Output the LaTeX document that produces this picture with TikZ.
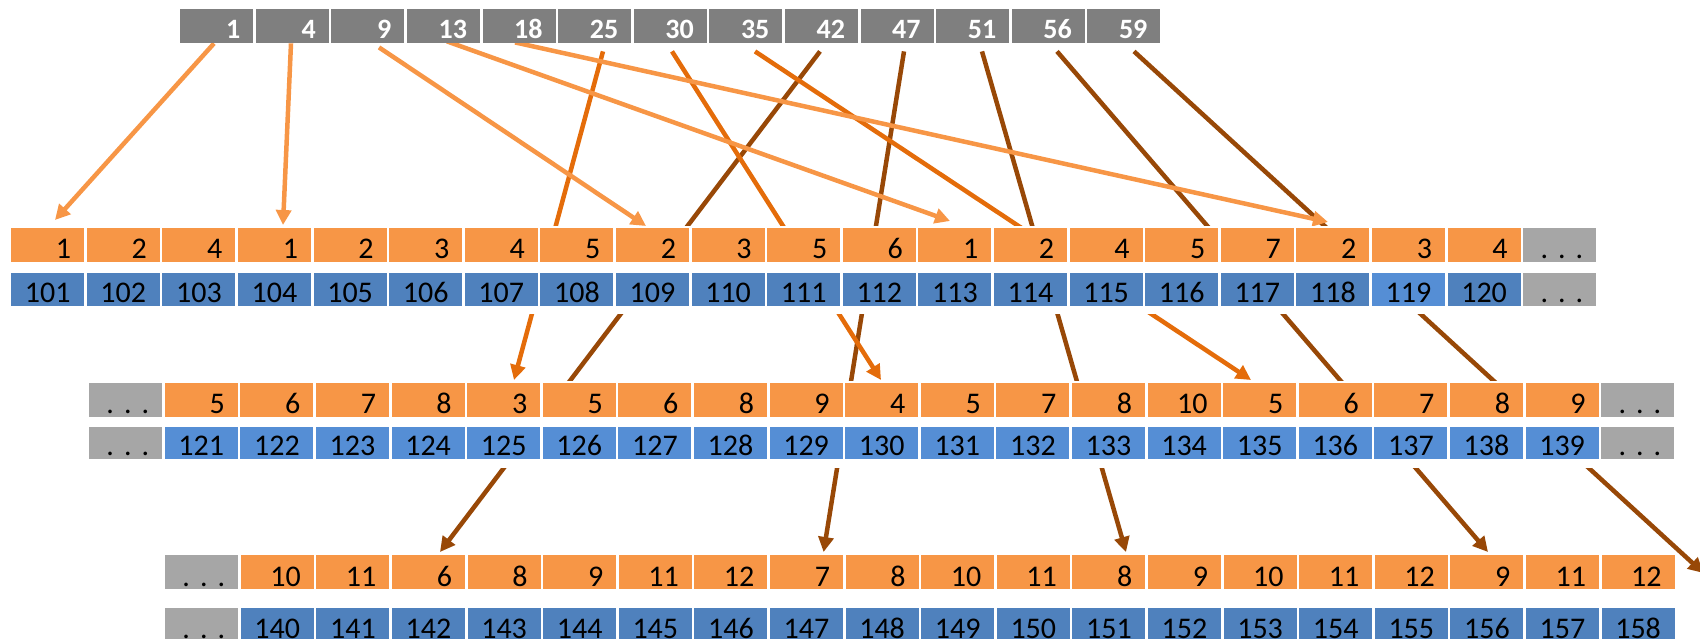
\documentclass[tikz,border=0pt]{standalone}
\usepackage{fontspec}
\setmainfont{Carlito}
\usetikzlibrary{arrows.meta,calc}
\definecolor{topgray}{HTML}{7F7F7F}
\definecolor{cellor}{HTML}{F79646}
\definecolor{cellbl}{HTML}{4F81BD}
\definecolor{cellbltwo}{HTML}{558ED5}
\definecolor{dotgray}{HTML}{A6A6A6}
\definecolor{lnlight}{HTML}{F79646}
\definecolor{lndark}{HTML}{E46C0A}
\definecolor{lnbrown}{HTML}{984807}
\pgfdeclarelayer{lines}
\pgfdeclarelayer{bands}
\pgfsetlayers{lines,bands,main}
\newcommand{\mydots}{\mbox{.\ .\ .}}
\begin{document}
\begin{tikzpicture}[x=1pt,y=-1pt,
  basecell/.style={anchor=north west, inner xsep=13pt, inner ysep=0pt,
    minimum width=73pt, text width=47pt, draw=none},
  topcell/.style={basecell, fill=topgray, text=white, align=right,
    text height=29pt, text depth=5pt, minimum height=34pt,
    font=\fontsize{28}{28}\selectfont\bfseries},
  ocell/.style={basecell, fill=cellor, align=right,
    text height=30pt, text depth=4pt, minimum height=34pt,
    font=\fontsize{30}{30}\selectfont},
  bcell/.style={basecell, fill=cellbl, align=center,
    text height=29pt, text depth=4pt, minimum height=33pt,
    font=\fontsize{30}{30}\selectfont},
  dcell/.style={fill=dotgray, align=right},
  lnL/.style={draw=lnlight, line width=4.5pt, -{Triangle[length=15pt,width=15pt]}},
  lnD/.style={draw=lndark, line width=4.5pt, -{Triangle[length=15pt,width=15pt]}},
  lnB/.style={draw=lnbrown, line width=4.5pt, -{Triangle[length=15pt,width=15pt]}}
]
\useasboundingbox (0,0) rectangle (1700,639);

% top row
\foreach \v [count=\k from 0] in {1,4,9,13,18,25,30,35,42,47,51,56,59}
  \node[topcell] (t\k) at ({180+75.6*\k},9) {\v};

% row 1
\foreach \v [count=\k from 0] in {1,2,4,1,2,3,4,5,2,3,5,6,1,2,4,5,7,2,3,4}
  \node[ocell] (o1-\k) at ({11+75.6*\k},228) {\v};
\node[ocell,dcell] (o1-20) at ({11+75.6*20},228) {\mydots};
\foreach \v [count=\k from 0] in {101,...,118}
  \node[bcell] (b1-\k) at ({11+75.6*\k},273) {\v};
\node[bcell,fill=cellbltwo] (b1-18) at ({11+75.6*18},273) {119};
\node[bcell] (b1-19) at ({11+75.6*19},273) {120};
\node[bcell,dcell] (b1-20) at ({11+75.6*20},273) {\mydots};

% row 2
\node[ocell,dcell] (o2-0) at (89,383) {\mydots};
\node[bcell,dcell,minimum height=32pt,text height=28pt] (b2-0) at (89,427) {\mydots};
\foreach \v [count=\k from 1] in {5,6,7,8,3,5,6,8,9,4,5,7,8,10,5,6,7,8,9}
  \node[ocell] (o2-\k) at ({89+75.6*\k},383) {\v};
\foreach \v [count=\k from 1] in {121,...,139}
  \node[bcell,fill=cellbltwo,minimum height=32pt,text height=28pt] (b2-\k) at ({89+75.6*\k},427) {\v};
\node[ocell,dcell] (o2-20) at ({89+75.6*20},383) {\mydots};
\node[bcell,dcell,minimum height=32pt,text height=28pt] (b2-20) at ({89+75.6*20},427) {\mydots};

% row 3
\node[ocell,dcell,text depth=3pt,text height=31pt] (o3-0) at (165,555) {\mydots};
\node[bcell,dcell,minimum height=34pt,text height=30pt] (b3-0) at (165,608) {\mydots};
\foreach \v [count=\k from 1] in {10,11,6,8,9,11,12,7,8,10,11,8,9,10,11,12,9,11,12}
  \node[ocell,text depth=3pt,text height=31pt] (o3-\k) at ({165+75.6*\k},555) {\v};
\foreach \v [count=\k from 1] in {140,...,158}
  \node[bcell,minimum height=34pt,text height=30pt] (b3-\k) at ({165+75.6*\k},608) {\v};

% white bands hiding connectors behind rows
\begin{pgfonlayer}{bands}
  \fill[white] (0,226.5) rectangle (1700,313.5);
  \fill[white] (0,380.5) rectangle (1700,467.5);
\end{pgfonlayer}

% connectors
\begin{pgfonlayer}{lines}
  \draw[lnB] ($(t8.south west)+(35.2,8)$) -- ($(o3-3.north west)+(48.2,-3)$);
  \draw[lnB] ($(t9.south west)+(43.6,8)$) -- ($(o3-8.north west)+(53.8,-3)$);
  \draw[lnB] ($(t10.south west)+(46,8)$) -- ($(o3-12.north west)+(53.8,-3)$);
  \draw[lnB] ($(t11.south west)+(45.4,8)$) -- ($(o3-17.north west)+(37.8,-3)$);
  \draw[lnB] ($(t12.south west)+(46.8,8)$) -- ($(o3-19.north east)+(28.6,18)$);
  \draw[lnD] ($(t5.south west)+(45,8)$) -- ($(o2-5.north west)+(47,-3)$);
  \draw[lnD] ($(t6.south west)+(38.4,8)$) -- ($(o2-10.north west)+(36,-3)$);
  \draw[lnD] ($(t7.south west)+(45.8,8)$) -- ($(o2-15.north west)+(28,-3)$);
  \draw[lnL] ($(t0.south west)+(34,0)$) -- ($(o1-0.north west)+(44,-8)$);
  \draw[lnL] ($(t1.south west)+(35.4,0)$) -- ($(o1-3.north west)+(45.2,-3)$);
  \draw[lnL] ($(t2.south west)+(47.8,4)$) -- ($(o1-8.north west)+(30.2,-2)$);
  \draw[lnL] ($(t3.south west)+(40.2,-2)$) -- ($(o1-12.north west)+(31.8,-7)$);
  \draw[lnL] ($(t4.south west)+(32.6,-1)$) -- ($(o1-17.north west)+(31.8,-6)$);
\end{pgfonlayer}
\end{tikzpicture}
\end{document}
